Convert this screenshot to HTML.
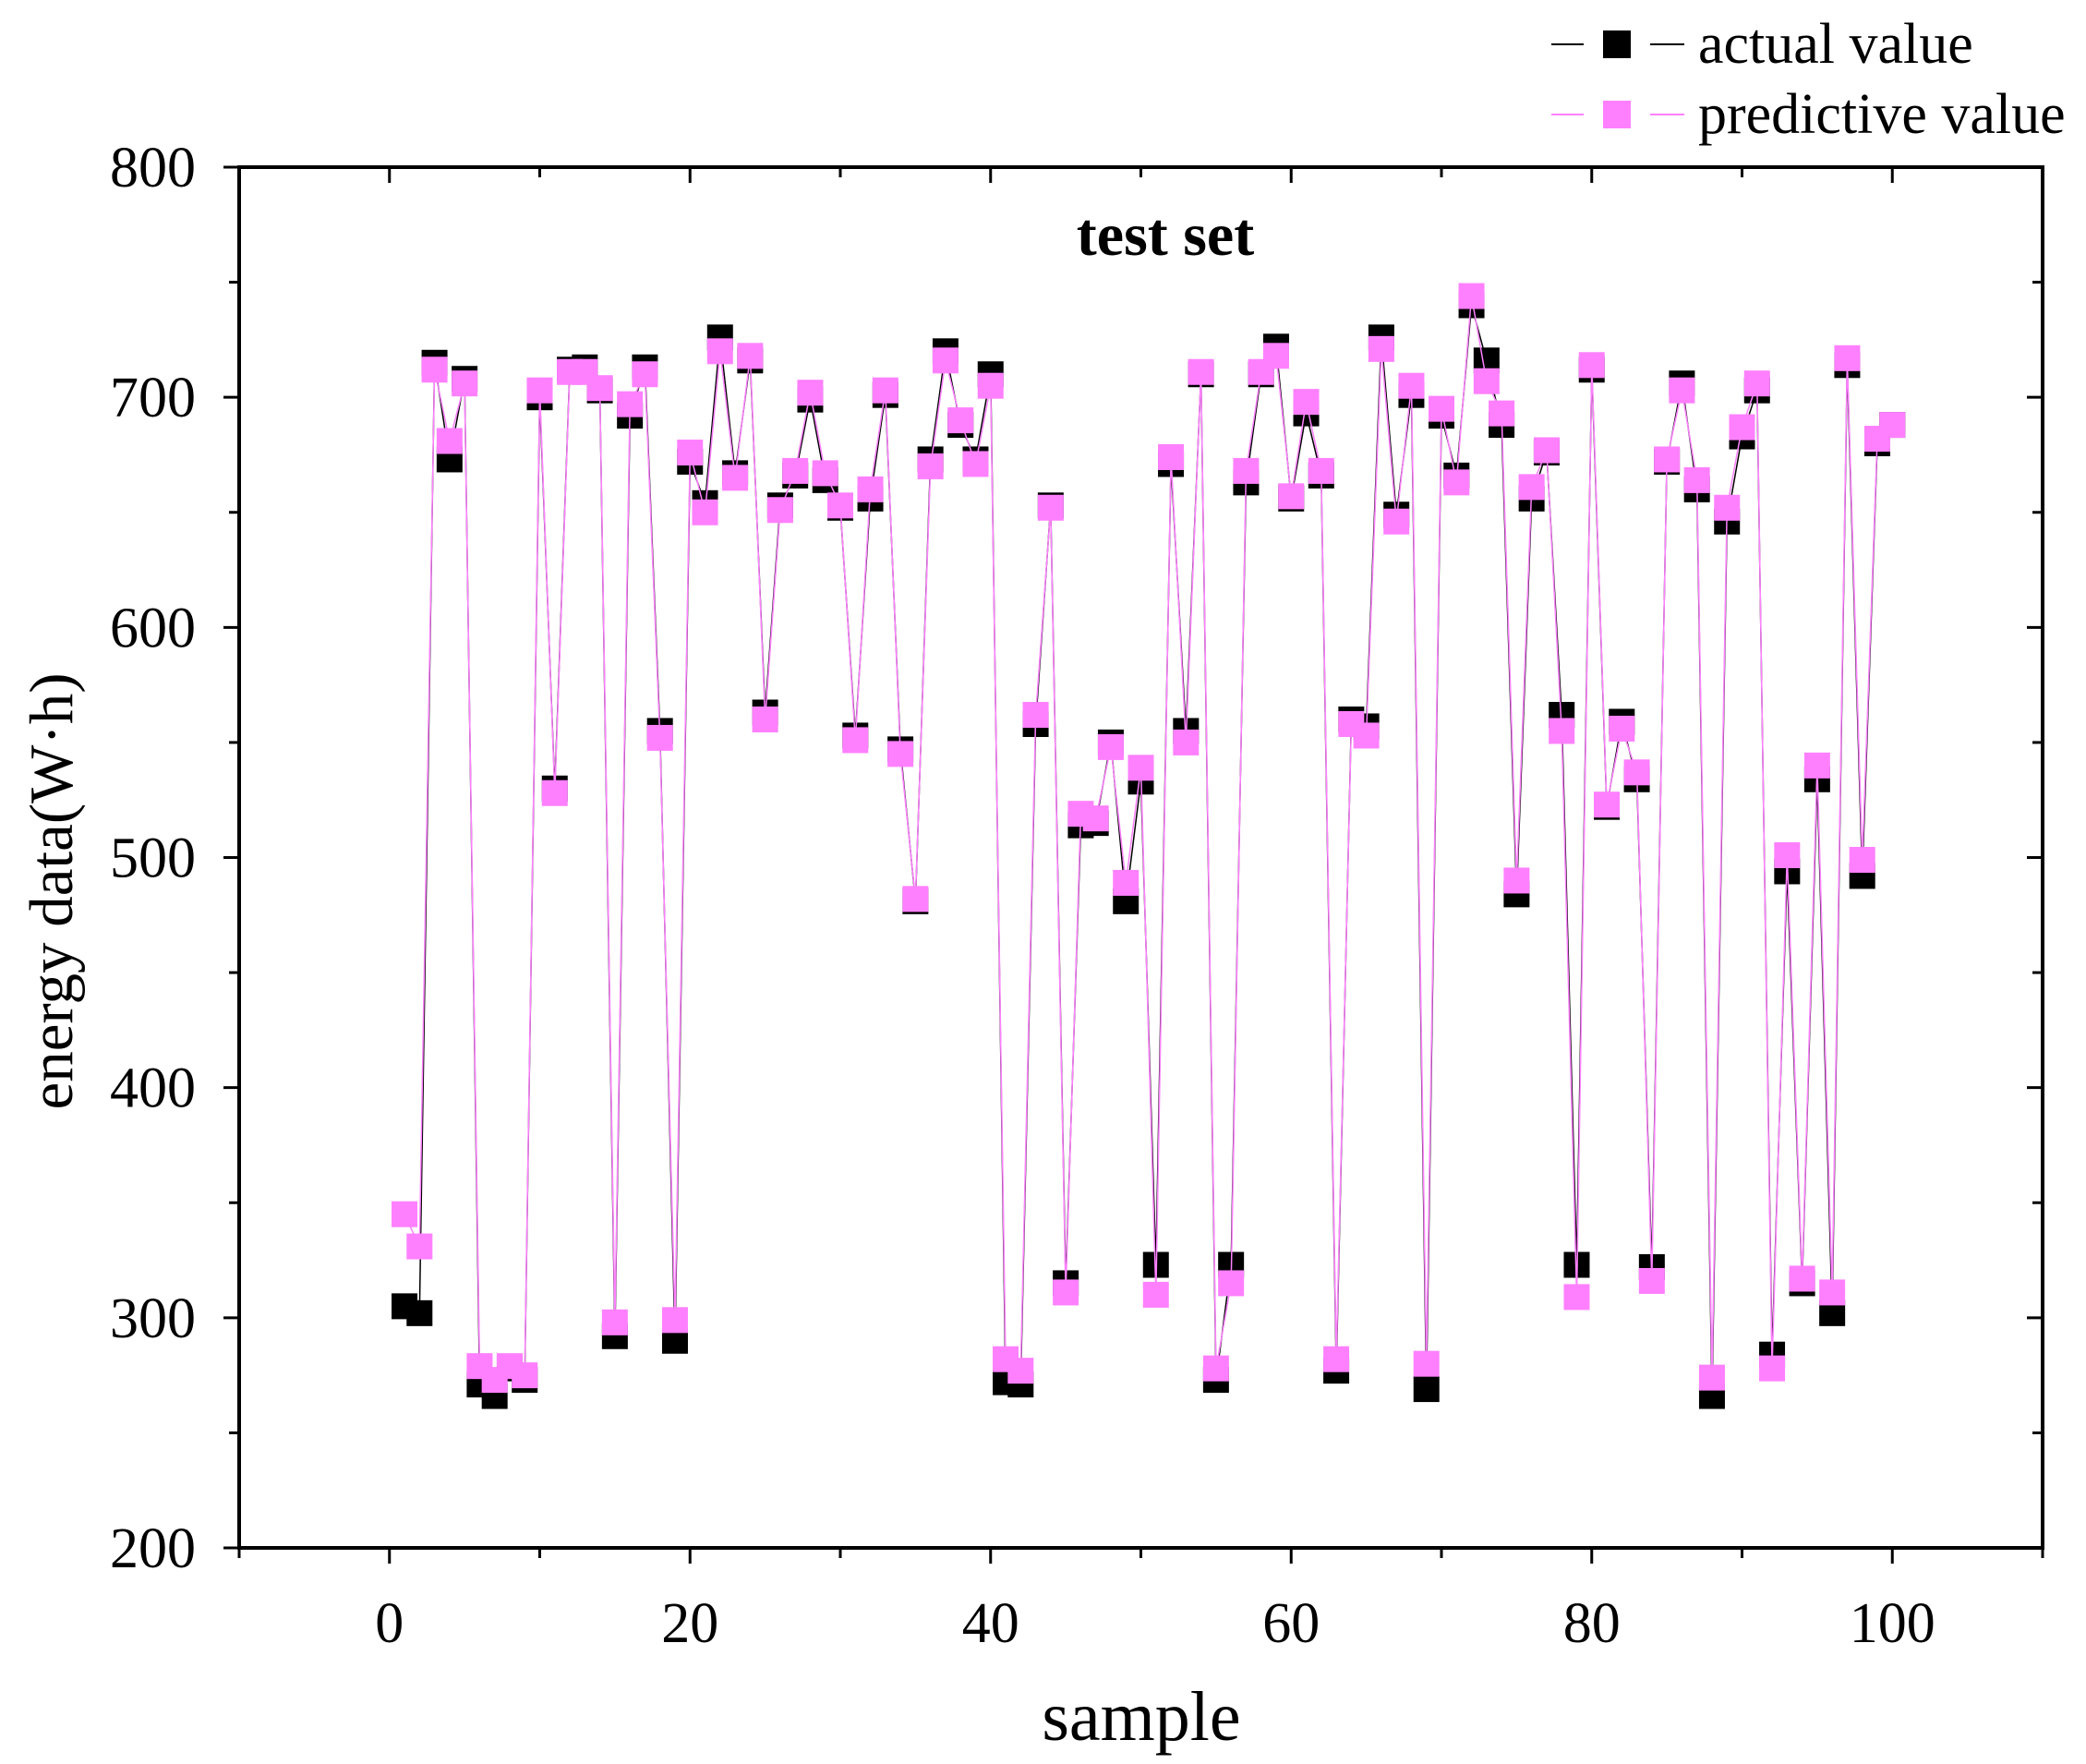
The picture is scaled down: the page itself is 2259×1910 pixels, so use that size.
<!DOCTYPE html>
<html><head><meta charset="utf-8"><style>
html,body{margin:0;padding:0;background:#fff;}
svg{display:block;font-family:"Liberation Serif",serif;}
</style></head><body>
<svg id="chart" width="2259" height="1910" viewBox="0 0 2259 1910" xmlns="http://www.w3.org/2000/svg">
<rect x="0" y="0" width="2259" height="1910" fill="#fff"/>
<g id="marks"></g>
<g id="axes"></g>
<text x="1262" y="276" font-size="66" font-weight="bold" text-anchor="middle">test set</text>
<text x="1236" y="1884" font-size="76" text-anchor="middle">sample</text>
<text transform="translate(78,965) rotate(-90)" font-size="67" text-anchor="middle">energy data(W·h)</text>
<g>
 <g>
  <line x1="1680" y1="48" x2="1715" y2="48" stroke="#000" stroke-width="2"/>
  <rect x="1736" y="33" width="30" height="30" fill="#000"/>
  <line x1="1787" y1="48" x2="1824" y2="48" stroke="#000" stroke-width="2"/>
  <text x="1839" y="68" font-size="62">actual value</text>
 </g>
 <g>
  <line x1="1680" y1="124" x2="1715" y2="124" stroke="#ff80ff" stroke-width="2"/>
  <rect x="1736" y="109" width="30" height="30" fill="#ff80ff"/>
  <line x1="1787" y1="124" x2="1824" y2="124" stroke="#ff80ff" stroke-width="2"/>
  <text x="1839" y="144" font-size="62">predictive value</text>
 </g>
</g>
</svg>
<script>
const actualValues=[305,302,715,673,708,271,266,278,273,700,530,712,713,703,292,692,713,555,290,672,654,726,667,716,563,653,666,699,664,652,553,656,701,547,481,673,720,688,673,710,272,271,558,653,315,514,515,550,481,533,323,671,555,710,273,323,663,710,722,656,693,666,277,560,557,726,649,701,269,692,666,740,716,688,484,656,676,562,323,712,522,559,534,322,672,706,660,266,646,683,703,284,494,315,534,302,714,492,680,688];
const predictiveValues=[345,331,712,681,706,279,273,279,275,703,528,711,711,704,298,697,710,552,299,676,650,720,665,718,560,651,668,702,667,653,551,660,703,545,482,670,716,690,671,705,282,277,562,652,311,519,517,548,489,539,310,674,550,711,278,315,668,711,718,657,698,668,282,558,553,721,646,705,280,695,663,744,707,693,490,661,677,555,309,714,523,556,537,316,673,703,664,274,652,687,706,278,501,317,540,311,717,499,682,688];
const xTicks=[0,20,40,60,80,100];
const yTicks=[200,300,400,500,600,700,800];
const NS="http://www.w3.org/2000/svg";
const L=259,R=2212,T=181,B=1676;
const xMin=-10,xMax=110,yMin=200,yMax=800;
function sx(v){return L+(v-xMin)/(xMax-xMin)*(R-L);}
function sy(v){return B-(v-yMin)/(yMax-yMin)*(B-T);}
function mk(tag,attrs,parent){const e=document.createElementNS(NS,tag);for(const k in attrs)e.setAttribute(k,attrs[k]);parent.appendChild(e);return e;}
const marks=document.getElementById('marks'),axes=document.getElementById('axes');
function series(vals,color,name){
 const pts=vals.map((v,i)=>sx(i+1).toFixed(1)+","+sy(v).toFixed(1)).join(" ");
 const pl=mk('polyline',{points:pts,fill:'none',stroke:color,'stroke-width':1.5},marks);
 
 
 vals.forEach((v,i)=>{
  const r=mk('rect',{x:sx(i+1)-14,y:sy(v)-14,width:28,height:28,fill:color},marks);
  
  
 });
}
series(actualValues,'#000','actual');
series(predictiveValues,'#ff80ff','predictive');
const frame=mk('rect',{x:L,y:T,width:R-L,height:B-T,fill:'none',stroke:'#000','stroke-width':4},axes);


for(let v=-10;v<=110;v+=10){
 const major=v%20===0;const len=major?17:11;const x=sx(v);
 mk('line',{x1:x,y1:B,x2:x,y2:B+len,stroke:'#000','stroke-width':3},axes);
 mk('line',{x1:x,y1:T,x2:x,y2:T+len,stroke:'#000','stroke-width':3},axes);
}
for(let v=200;v<=800;v+=50){
 const major=v%100===0;const len=major?17:11;const y=sy(v);
 mk('line',{x1:L,y1:y,x2:L-len,y2:y,stroke:'#000','stroke-width':3},axes);
 mk('line',{x1:R,y1:y,x2:R-len,y2:y,stroke:'#000','stroke-width':3},axes);
}
xTicks.forEach(v=>{
 const t=mk('text',{x:sx(v),y:1778,'font-size':62,'text-anchor':'middle'},axes);
 t.textContent=v;
 
 
});
yTicks.forEach(v=>{
 const t=mk('text',{x:212,y:sy(v)+21,'font-size':62,'text-anchor':'end'},axes);
 t.textContent=v;
 
 
});
</script>
</body></html>
